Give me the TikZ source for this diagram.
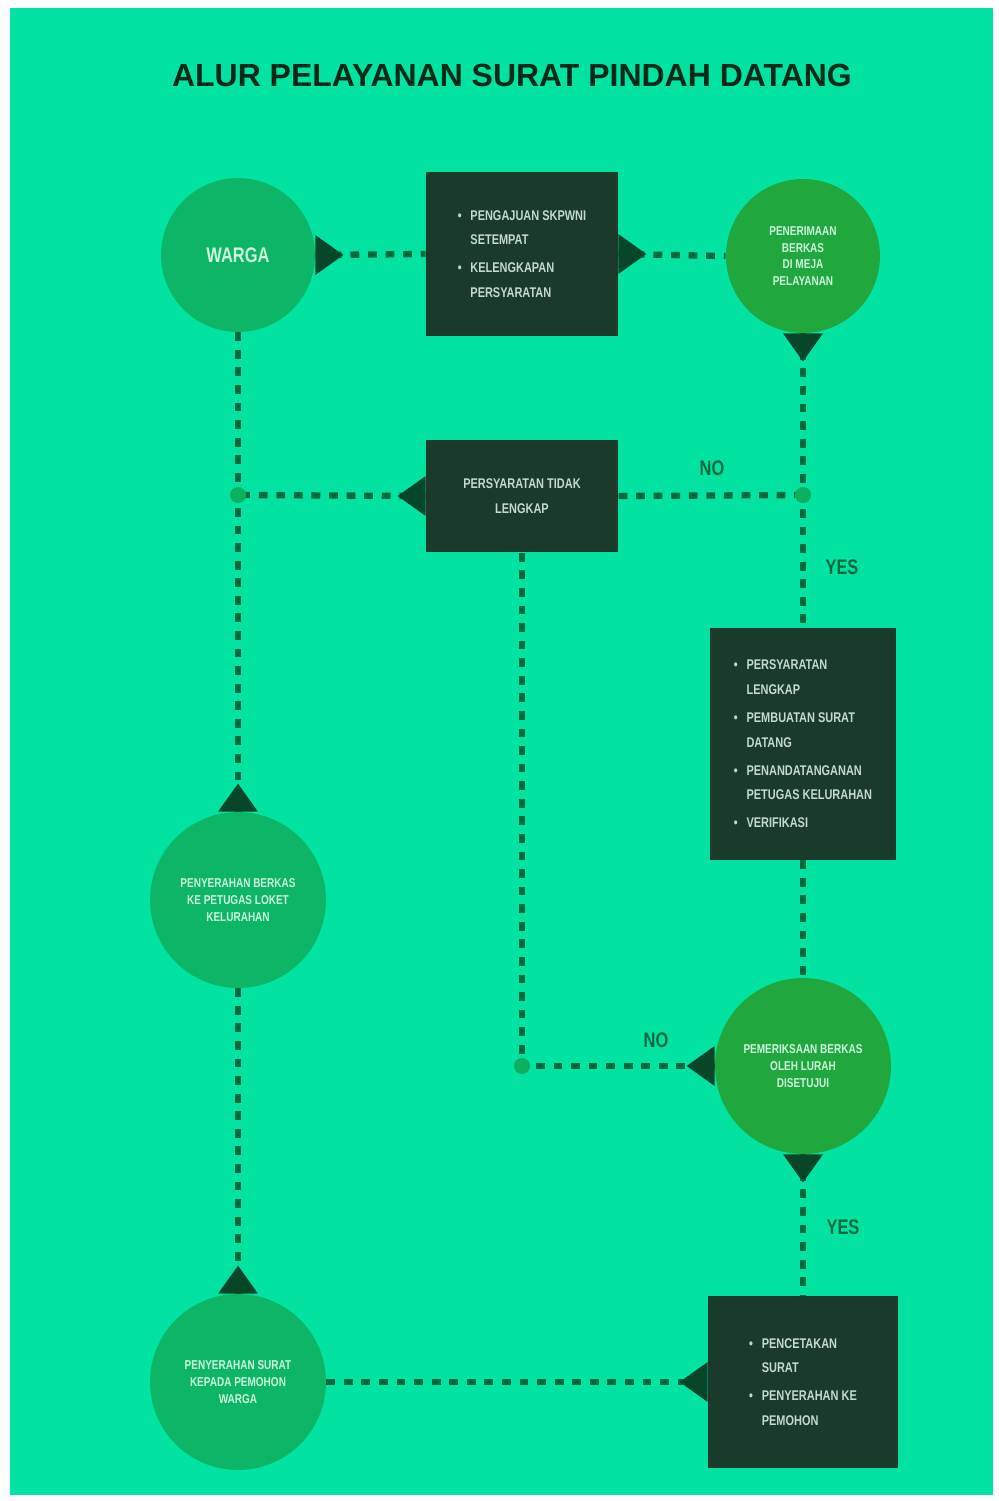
\documentclass[tikz,border=0pt]{standalone}
\usepackage{fontspec}
\setmainfont{Liberation Sans}
\newfontfamily\narrowfont[FakeStretch=0.78]{Liberation Sans}
\usetikzlibrary{positioning}
\usetikzlibrary{calc}
\definecolor{MyMint}{RGB}{2,226,160}
\definecolor{MyTeal}{RGB}{12,182,102}
\definecolor{MyLeaf}{RGB}{32,168,62}
\definecolor{MyBox}{RGB}{26,58,44}
\definecolor{MyLine}{RGB}{5,105,62}
\definecolor{MyTip}{RGB}{8,70,42}
\definecolor{MyDot}{RGB}{14,176,96}
\definecolor{MyPale}{RGB}{205,245,220}
\definecolor{MyGrey}{RGB}{195,218,205}
\definecolor{MyTitle}{RGB}{8,40,24}
\newcommand{\daftar}[1]{\begin{tabular}{@{}l@{\hspace{5pt}}l@{}}#1\end{tabular}}

\begin{document}
\begin{tikzpicture}[x=0.02cm,y=-0.02cm,
    bulat/.style={circle,fill=#1,inner sep=0pt,text=MyPale,align=center,
      font=\narrowfont\bfseries\fontsize{7.3}{9.5}\selectfont},
    kotak/.style={fill=MyBox,inner sep=0pt,text=MyGrey,
      font=\narrowfont\bfseries\fontsize{8}{14}\selectfont},
    alur/.style={draw=MyLine,line width=3.6pt,dash pattern=on 5pt off 5pt},
    titik/.style={circle,fill=MyDot,minimum size=0.32cm,inner sep=0pt},
    ket/.style={text=MyLine,font=\narrowfont\bfseries\fontsize{12}{12}\selectfont},
    tri/.pic={\fill[MyTip] (0,-20) -- (28,0) -- (0,20) -- cycle;}]
  \useasboundingbox[fill=white] (0,0) rectangle (998,1501);
  \fill[MyMint] (10,8) rectangle (993,1495);
  \node[text=MyTitle,font=\bfseries\fontsize{18.2}{20}\selectfont] (judul) at (512,75) {ALUR PELAYANAN SURAT PINDAH DATANG};

  % baris atas
  \node[bulat=MyTeal,minimum size=3.08cm,font=\narrowfont\bfseries\fontsize{12}{12}\selectfont] (warga) at (238,255) {WARGA};
  \node[kotak,minimum width=3.84cm,minimum height=3.28cm] (syarat) at (522,254) {\daftar{\textbullet & PENGAJUAN SKPWNI\\ & SETEMPAT\\[2pt] \textbullet & KELENGKAPAN\\ & PERSYARATAN}};
  \node[bulat=MyLeaf,minimum size=3.08cm] (terima) at (803,256) {PENERIMAAN\\BERKAS\\DI MEJA\\PELAYANAN};

  % tengah
  \node[kotak,minimum width=3.84cm,minimum height=2.26cm,align=center] (kurang) at (522,496) {PERSYARATAN TIDAK\\LENGKAP};
  \node[kotak,minimum width=3.74cm,minimum height=4.64cm] (proses) at (803,744) {\daftar{\textbullet & PERSYARATAN\\ & LENGKAP\\[2pt] \textbullet & PEMBUATAN SURAT\\ & DATANG\\[2pt] \textbullet & PENANDATANGANAN\\ & PETUGAS KELURAHAN\\[2pt] \textbullet & VERIFIKASI}};
  \node[bulat=MyTeal,minimum size=3.52cm] (serah) at (238,900) {PENYERAHAN BERKAS\\KE PETUGAS LOKET\\KELURAHAN};
  \node[bulat=MyLeaf,minimum size=3.52cm] (lurah) at (803,1066) {PEMERIKSAAN BERKAS\\OLEH LURAH\\DISETUJUI};

  % baris bawah
  \node[bulat=MyTeal,minimum size=3.52cm] (akhir) at (238,1382) {PENYERAHAN SURAT\\KEPADA PEMOHON\\WARGA};
  \node[kotak,minimum width=3.8cm,minimum height=3.44cm] (cetak) at (803,1382) {\daftar{\textbullet & PENCETAKAN\\ & SURAT\\[2pt] \textbullet & PENYERAHAN KE\\ & PEMOHON}};

  \coordinate (j1) at (238,495);
  \coordinate (j2) at (803,495);
  \coordinate (j3) at (522,1066);

  \draw[alur] (warga.east) -- (syarat.west);
  \draw[alur] (syarat.east) -- (terima.west);
  \draw[alur] (terima.south) -- (proses.north);
  \draw[alur] (j2) -- (kurang.east);
  \draw[alur] (kurang.west) -- (j1);
  \draw[alur] (warga.south) -- (serah.north);
  \draw[alur] (serah.south) -- (akhir.north);
  \draw[alur] (kurang.south) |- (lurah.west);
  \draw[alur] (proses.south) -- (lurah.north);
  \draw[alur] (lurah.south) -- (cetak.north);
  \draw[alur] (akhir.east) -- (cetak.west);

  \pic at (warga.east) {tri};
  \pic at (syarat.east) {tri};
  \pic[rotate=-90] at (terima.south) {tri};
  \pic[rotate=180] at (kurang.west) {tri};
  \pic[rotate=90] at (serah.north) {tri};
  \pic[rotate=90] at (akhir.north) {tri};
  \pic[rotate=180] at (lurah.west) {tri};
  \pic[rotate=-90] at (lurah.south) {tri};
  \pic[rotate=180] at (cetak.west) {tri};

  \node[titik] at (j1) {};
  \node[titik] at (j2) {};
  \node[titik] at (j3) {};

  \node[ket] (no1) at (712,468) {NO};
  \node[ket] (yes1) at (842,567) {YES};
  \node[ket] (no2) at (656,1040) {NO};
  \node[ket] (yes2) at (843,1227) {YES};
\end{tikzpicture}
\end{document}
